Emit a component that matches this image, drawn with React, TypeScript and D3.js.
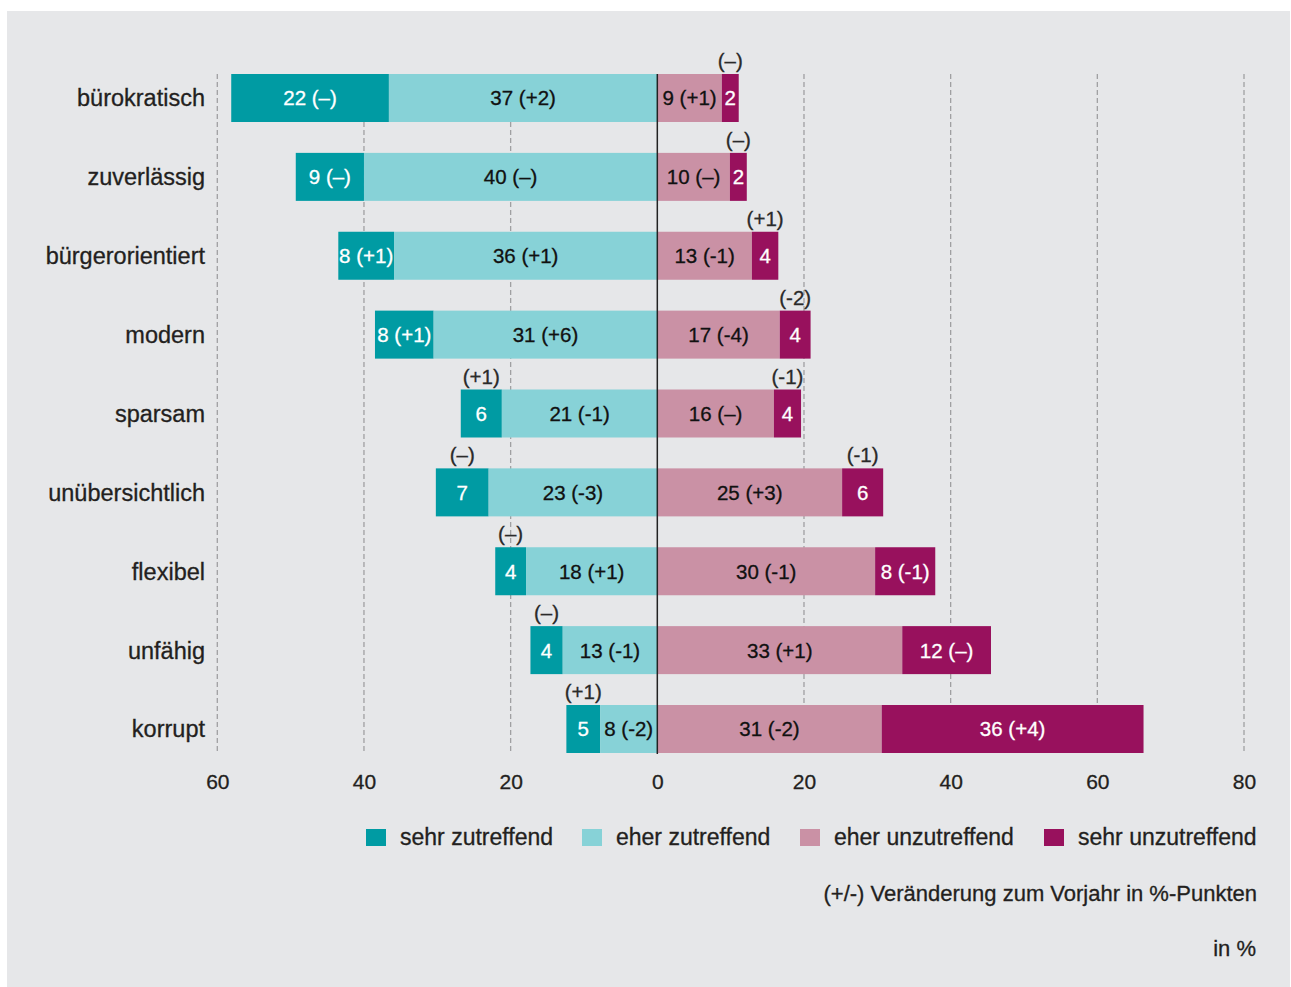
import React, { useEffect, useRef } from "react";
import * as d3 from "d3";

const categories = ["bürokratisch", "zuverlässig", "bürgerorientiert", "modern", "sparsam", "unübersichtlich", "flexibel", "unfähig", "korrupt"];

// bar lengths (labels show the rounded value)
const sehrZu = [21.5, 9.3, 7.6, 8.0, 5.6, 7.2, 4.2, 4.4, 4.6];
const sehrZuChange = [0, 0, 1, 1, 1, 0, 0, 0, 1];
const eherZu = [36.6, 40.0, 35.9, 30.5, 21.2, 23.0, 17.9, 12.9, 7.8];
const eherZuChange = [2, 0, 1, 6, -1, -3, 1, -1, -2];
const eherUn = [8.8, 9.9, 12.9, 16.7, 15.9, 25.2, 29.7, 33.4, 30.6];
const eherUnChange = [1, 0, -1, -4, 0, 3, -1, 1, -2];
const sehrUn = [2.3, 2.3, 3.6, 4.2, 3.7, 5.6, 8.2, 12.1, 35.7];
const sehrUnChange = [0, 0, 1, -2, -1, -1, -1, 0, 4];

const seriesNames = ["sehr zutreffend", "eher zutreffend", "eher unzutreffend", "sehr unzutreffend"];
const ticks = [-60, -40, -20, 0, 20, 40, 60, 80];

const font = "'Liberation Sans', Arial, Helvetica, sans-serif";
const textColor = "#231f20";

function fmtChange(c: number) {
  if (c === 0) return "(–)";
  return c > 0 ? `(+${c})` : `(${c})`;
}

export default function App() {
  const ref = useRef<SVGSVGElement>(null);

  useEffect(() => {
    const width = 1291;
    const height = 987;
    const svg = d3.select(ref.current).attr("width", width).attr("height", height);
    svg.selectAll("*").remove();

    // panel
    svg.append("rect")
      .attr("x", 7).attr("y", 11)
      .attr("width", 1283).attr("height", 990)
      .attr("fill", "#e6e7e9");

    const x = d3.scaleLinear().domain([-60, 80]).range([217.3, 1244]);
    const y = d3.scalePoint<string>().domain(categories).range([98, 729]);
    const barH = 48;
    const top = 74;
    const bottom = 754;

    const colors = ["#009ba3", "#87d2d7", "#ca91a5", "#98115d"];
    const labelColors = ["#ffffff", "#111111", "#111111", "#ffffff"];

    // gridlines
    svg.append("g")
      .selectAll("line")
      .data(ticks.filter(t => t !== 0))
      .enter()
      .append("line")
      .attr("x1", d => x(d)).attr("x2", d => x(d))
      .attr("y1", top).attr("y2", bottom)
      .attr("stroke", "#a0a0a2")
      .attr("stroke-width", 1.3)
      .attr("stroke-dasharray", "5,3");

    // segments: left side stacks outward from 0
    const rows = categories.map((c, i) => {
      const segs = [
        { s: 0, x0: -sehrZu[i] - eherZu[i], x1: -eherZu[i], v: sehrZu[i], ch: sehrZuChange[i] },
        { s: 1, x0: -eherZu[i], x1: 0, v: eherZu[i], ch: eherZuChange[i] },
        { s: 2, x0: 0, x1: eherUn[i], v: eherUn[i], ch: eherUnChange[i] },
        { s: 3, x0: eherUn[i], x1: eherUn[i] + sehrUn[i], v: sehrUn[i], ch: sehrUnChange[i] },
      ];
      return { c, segs };
    });

    const rowG = svg.append("g")
      .selectAll("g")
      .data(rows)
      .enter()
      .append("g")
      .attr("transform", d => `translate(0, ${y(d.c)})`);

    rowG.selectAll("rect")
      .data(d => d.segs)
      .enter()
      .append("rect")
      .attr("x", d => x(d.x0))
      .attr("y", -barH / 2)
      .attr("width", d => x(d.x1) - x(d.x0))
      .attr("height", barH)
      .attr("fill", d => colors[d.s]);

    // labels inside
    rowG.selectAll("text.inside")
      .data(d => d.segs)
      .enter()
      .append("text")
      .attr("class", "inside")
      .attr("x", d => (x(d.x0) + x(d.x1)) / 2)
      .attr("y", 0)
      .attr("dy", "0.36em")
      .attr("text-anchor", "middle")
      .style("font-family", font)
      .style("font-size", "20.5px")
      .attr("fill", d => labelColors[d.s])
      .attr("stroke", d => labelColors[d.s])
      .attr("stroke-width", 0.3)
      .text(d => Math.round(d.v) >= 8 ? `${Math.round(d.v)} ${fmtChange(d.ch)}` : `${Math.round(d.v)}`);

    // changes above narrow segments
    rowG.selectAll("text.above")
      .data(d => d.segs.filter(s => Math.round(s.v) < 8))
      .enter()
      .append("text")
      .attr("class", "above")
      .attr("x", d => (x(d.x0) + x(d.x1)) / 2)
      .attr("y", -barH / 2 - 6)
      .attr("text-anchor", "middle")
      .style("font-family", font)
      .style("font-size", "20.5px")
      .attr("fill", "#2a2a2a")
      .attr("stroke", "#2a2a2a")
      .attr("stroke-width", 0.3)
      .text(d => fmtChange(d.ch));

    // zero line
    svg.append("line")
      .attr("x1", x(0)).attr("x2", x(0))
      .attr("y1", top).attr("y2", bottom)
      .attr("stroke", "#222")
      .attr("stroke-width", 1.5);

    // category labels
    svg.append("g")
      .selectAll("text")
      .data(categories)
      .enter()
      .append("text")
      .attr("x", 205)
      .attr("y", d => y(d))
      .attr("dy", "0.36em")
      .attr("text-anchor", "end")
      .style("font-family", font)
      .style("font-size", "23.5px")
      .attr("fill", textColor)
      .attr("stroke", textColor)
      .attr("stroke-width", 0.3)
      .text(d => d);

    // x axis
    const axis = svg.append("g")
      .attr("transform", `translate(0, 771)`)
      .call(d3.axisBottom(x).tickValues(ticks).tickSize(0).tickFormat(d => `${Math.abs(+d)}`));
    axis.select(".domain").remove();
    axis.selectAll("text")
      .style("font-family", font)
      .style("font-size", "21px")
      .attr("fill", textColor)
      .attr("stroke", textColor)
      .attr("stroke-width", 0.3);

    // legend
    const legendX = [366, 582, 800, 1044];
    const legend = svg.append("g")
      .selectAll("g")
      .data(seriesNames)
      .enter()
      .append("g")
      .attr("transform", (d, i) => `translate(${legendX[i]}, 837)`);
    legend.append("rect")
      .attr("x", 0).attr("y", -8)
      .attr("width", 20).attr("height", 17)
      .attr("fill", (d, i) => colors[i]);
    legend.append("text")
      .attr("x", 34).attr("y", 0)
      .attr("dy", "0.36em")
      .style("font-family", font)
      .style("font-size", "23px")
      .attr("fill", textColor)
      .attr("stroke", textColor)
      .attr("stroke-width", 0.3)
      .text(d => d);

    // notes
    svg.append("text")
      .attr("x", 1257).attr("y", 893)
      .attr("dy", "0.36em")
      .attr("text-anchor", "end")
      .style("font-family", font)
      .style("font-size", "22px")
      .attr("fill", textColor)
      .attr("stroke", textColor)
      .attr("stroke-width", 0.3)
      .text("(+/-) Veränderung zum Vorjahr in %-Punkten");

    svg.append("text")
      .attr("x", 1256).attr("y", 948)
      .attr("dy", "0.36em")
      .attr("text-anchor", "end")
      .style("font-family", font)
      .style("font-size", "22px")
      .attr("fill", textColor)
      .attr("stroke", textColor)
      .attr("stroke-width", 0.3)
      .text("in %");
  }, []);

  return (
    <svg ref={ref} style={{ position: "absolute", left: 0, top: 0, display: "block", background: "#fff" }} />
  );
}
